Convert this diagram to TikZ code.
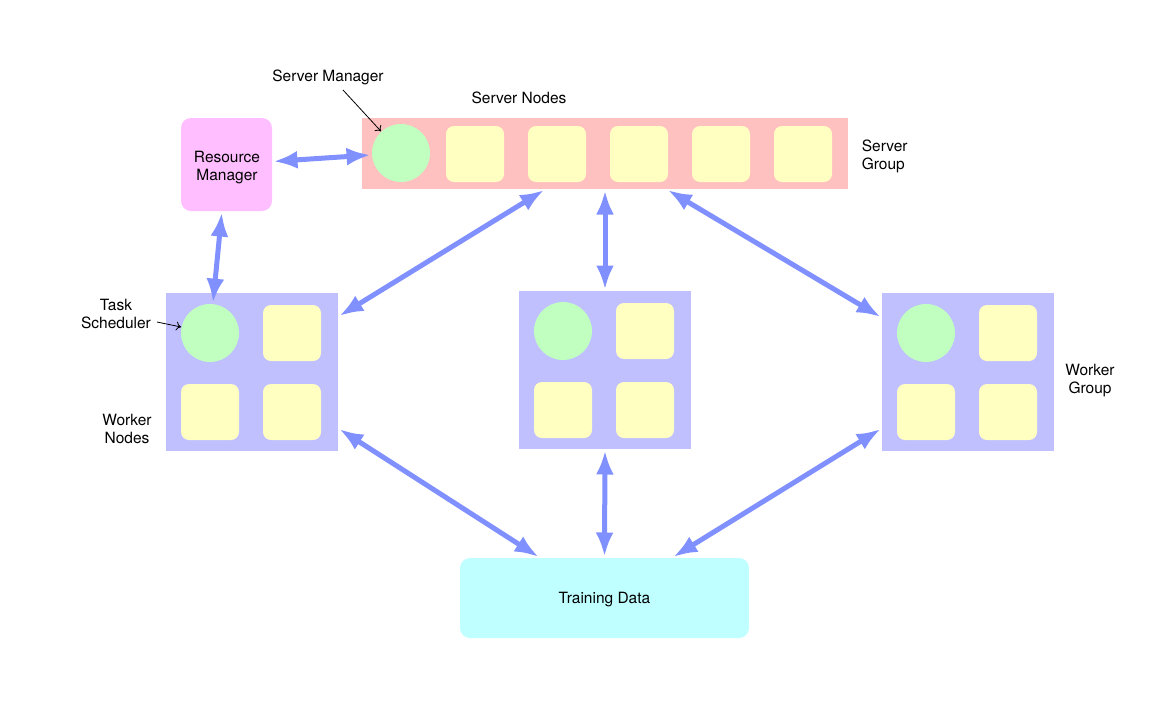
\documentclass[tikz,border=0pt]{standalone}
\usepackage{fontspec}
\setmainfont{TeX Gyre Heros}
\usepackage{tikz}
\usetikzlibrary{arrows.meta}

\definecolor{srvpink}{RGB}{255,192,192}
\definecolor{rmpink}{RGB}{255,190,255}
\definecolor{wrkblue}{RGB}{192,192,255}
\definecolor{mgrgreen}{RGB}{192,255,192}
\definecolor{nodeyellow}{RGB}{255,255,194}
\definecolor{datacyan}{RGB}{192,255,255}
\definecolor{linkblue}{RGB}{128,144,255}

\begin{document}
\begin{tikzpicture}[x=1pt, y=-1pt, line width=1pt,
  font=\fontsize{15.5}{18}\selectfont,
  grp/.style={inner sep=0pt, minimum width=172pt, minimum height=158pt, fill=wrkblue},
  box/.style={inner sep=0pt, align=center, rounded corners=10pt},
  mgrc/.style={circle, inner sep=0pt, minimum size=58pt, fill=mgrgreen},
  sq/.style={inner sep=0pt, minimum width=58pt, minimum height=56pt, rounded corners=8pt, fill=nodeyellow},
  link/.style={draw=linkblue, line width=5pt, shorten <=1pt, shorten >=1pt,
    {Latex[length=24pt,width=18pt]}-{Latex[length=24pt,width=18pt]}},
  pointer/.style={draw=black, line width=0.8pt, -{To[length=5pt,width=9pt]}}]
\useasboundingbox (0,0) rectangle (1152,721);

% server group
\node[grp, fill=srvpink, minimum width=486pt, minimum height=71pt] (sg) at (605,153.5) {};
\node[mgrc] (sm) at (401,153) {};
\foreach \i in {1,...,5}
  \node[sq] (sn\i) at ({393+82*\i},154) {};

\node[box, fill=rmpink, minimum width=91pt, minimum height=93pt] (rm) at (226.5,164.5) {};
\node[align=center] (rmt) at (227,167.5) {Resource\\Manager};

% worker groups
\foreach \g/\x/\y in {1/166/293, 2/519/291, 3/882/293} {
  \node[grp] (wg\g) at ({\x+86},{\y+79}) {};
  \node[mgrc] (ts\g) at ({\x+44},{\y+40}) {};
  \node[sq] (wa\g) at ({\x+126},{\y+40}) {};
  \node[sq] (wb\g) at ({\x+44},{\y+119}) {};
  \node[sq] (wc\g) at ({\x+126},{\y+119}) {};
}

\node[box, fill=datacyan, minimum width=289pt, minimum height=80pt] (td) at (604.5,598) {};
\node (tdt) at (604.5,600) {Training Data};

% links
\draw[link] (rm) -- (sm);
\draw[link] (rm) -- (ts1);
\draw[link] ([xshift=-60pt]sg.south) -- ([yshift=-24pt]wg1.north east);
\draw[link] (sg.south) -- (wg2.north);
\draw[link] ([xshift=62pt]sg.south) -- ([yshift=-25pt]wg3.north west);
\draw[link] ([yshift=23pt]wg1.south east) -- ([xshift=80pt]td.north west);
\draw[link] (wg2.south) -- (td.north);
\draw[link] ([yshift=23pt]wg3.south west) -- ([xshift=-77pt]td.north east);

% labels
\node (sml) at (328,77) {Server Manager};
\coordinate (smtail) at (343,90);
\draw[pointer] (smtail) -- (sm);
\node (snl) at (519,97.5) {Server Nodes};
\node[anchor=west, align=left] (sgl) at (858,156) {Server\\Group};
\node[align=center] (tsl) at (116,314) {Task\\Scheduler};
\coordinate (tstail) at (157,322);
\draw[pointer] (tstail) -- (ts1);
\node[align=center] (wnl) at (127,429) {Worker\\Nodes};
\node[align=center] (wgl) at (1090,381) {Worker\\Group};
\end{tikzpicture}
\end{document}
